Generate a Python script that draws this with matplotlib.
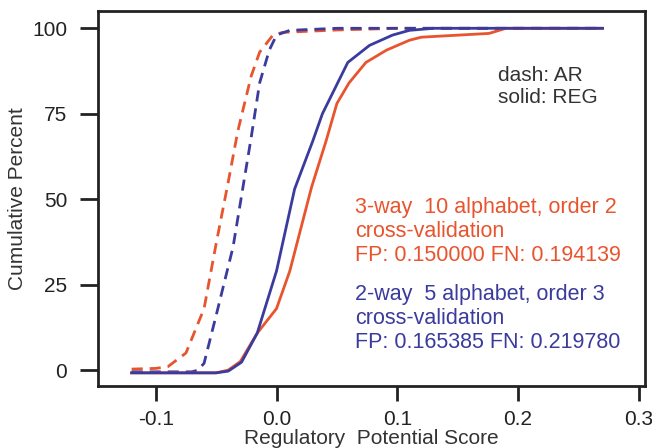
import matplotlib
matplotlib.use('Agg')
import matplotlib.pyplot as plt

plt.rcParams['font.family'] = ['Liberation Sans', 'DejaVu Sans']

red = '#e8542e'
blue = '#3b3b9e'

# REG (solid) curves
reg3_x = [-0.12, -0.05, -0.04, -0.03, -0.016, 0.0, 0.011, 0.029, 0.041, 0.05, 0.06, 0.074, 0.091, 0.11, 0.12, 0.176, 0.19, 0.27]
reg3_y = [-0.8, -0.8, 0.0, 2.5, 10.8, 18, 29, 53.5, 67, 78, 84, 90, 93.6, 96.5, 97.4, 98.5, 100, 100]
reg2_x = [-0.12, -0.05, -0.04, -0.029, -0.016, 0.0, 0.015, 0.03, 0.038, 0.059, 0.077, 0.096, 0.11, 0.13, 0.27]
reg2_y = [-0.8, -0.8, -0.3, 2.3, 10.8, 29, 53, 67, 75, 90, 95, 98, 99.4, 100, 100]

# AR (dashed) curves
ar3_x = [-0.12, -0.10, -0.09, -0.075, -0.06, -0.05, -0.04, -0.032, -0.021, -0.014, -0.003, 0.005, 0.05, 0.1, 0.27]
ar3_y = [0.3, 0.5, 1, 5, 18, 37, 55, 70, 86, 93, 98, 98.8, 99.5, 100, 100]
ar2_x = [-0.12, -0.07, -0.065, -0.06, -0.05, -0.036, -0.021, -0.014, -0.006, 0.0, 0.011, 0.05, 0.27]
ar2_y = [-0.5, -0.5, 0, 2, 16, 36, 68, 84, 93.6, 98, 99.4, 100, 100]

xticks = [-0.1, 0.0, 0.1, 0.2, 0.3]
yticks = [0, 25, 50, 75, 100]

fig = plt.figure(figsize=(6.52, 4.48), dpi=100)
ax = fig.add_axes([0.150, 0.138, 0.839, 0.837])

dash = (4, 2.5)
ax.plot(ar3_x, ar3_y, color=red, lw=2, linestyle=(0, dash))
ax.plot(ar2_x, ar2_y, color=blue, lw=2, linestyle=(0, dash))
ax.plot(reg3_x, reg3_y, color=red, lw=2)
ax.plot(reg2_x, reg2_y, color=blue, lw=2)

ax.set_xlim(-0.148, 0.305)
ax.set_ylim(-4.7, 105)
ax.set_xticks(xticks)
ax.set_xticklabels(['-0.1', '0.0', '0.1', '0.2', '0.3'])
ax.set_yticks(yticks)

for s in ax.spines.values():
    s.set_linewidth(2)
    s.set_color('#222222')
ax.tick_params(axis='y', direction='out', length=13, width=2, pad=9, labelsize=15, colors='#222222')
ax.tick_params(axis='x', direction='out', length=11, width=2, pad=6, labelsize=15, colors='#222222')

ax.set_ylabel('Cumulative Percent', fontsize=15, color='#333333', labelpad=4)
ax.set_xlabel('Regulatory  Potential Score', fontsize=15, color='#333333', labelpad=0)

ax.text(0.731, 0.80, 'dash: AR\nsolid: REG', transform=ax.transAxes, fontsize=15,
        color='#333333', va='center', ha='left', linespacing=1.2)
ax.text(0.470, 0.413, '3-way  10 alphabet, order 2\ncross-validation\nFP: 0.150000 FN: 0.194139',
        transform=ax.transAxes, fontsize=15.5, color=red, va='center', ha='left', linespacing=1.2)
ax.text(0.470, 0.18, '2-way  5 alphabet, order 3\ncross-validation\nFP: 0.165385 FN: 0.219780',
        transform=ax.transAxes, fontsize=15.5, color=blue, va='center', ha='left', linespacing=1.2)

plt.savefig('out.png', dpi=100)
